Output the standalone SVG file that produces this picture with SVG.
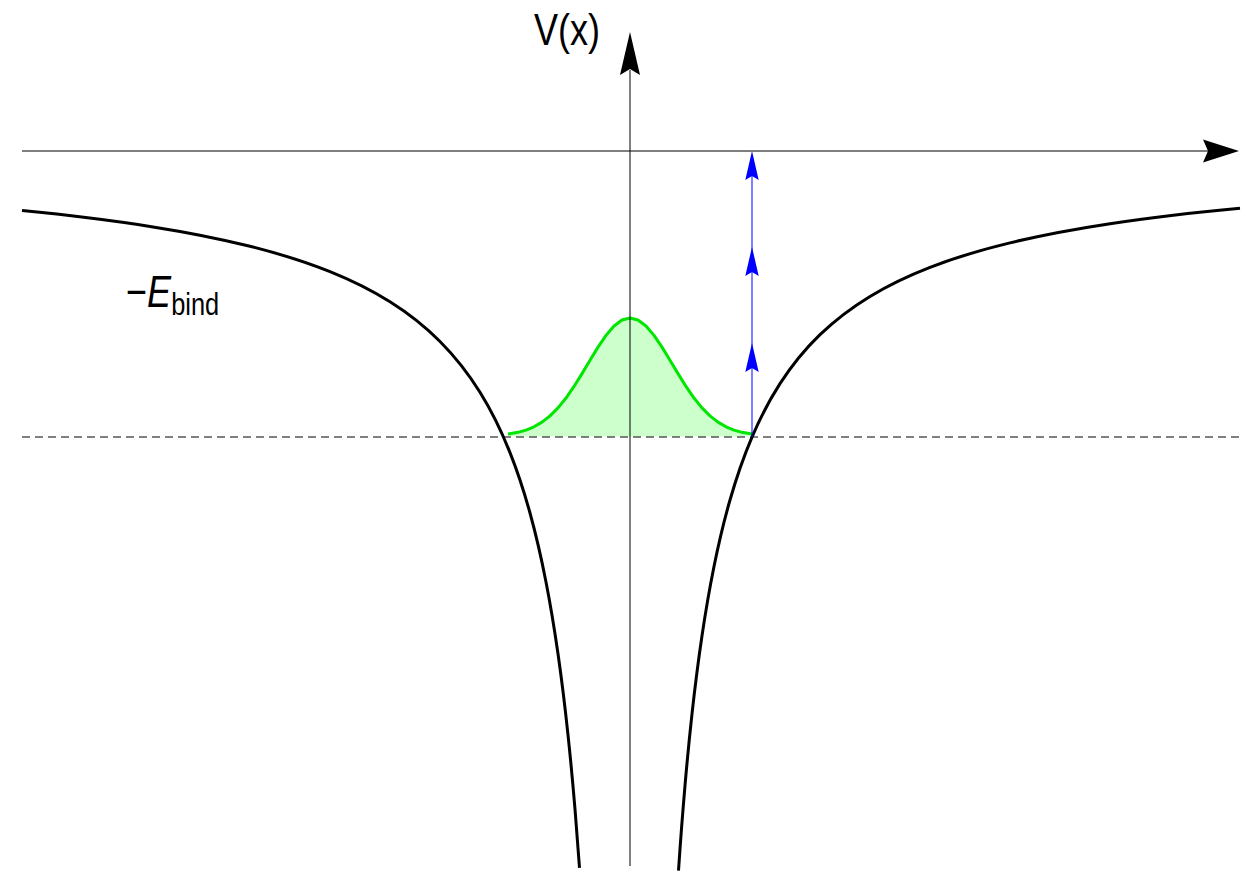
<svg xmlns="http://www.w3.org/2000/svg" width="1257" height="885" viewBox="0 0 1257 885">
<style>
.axis{stroke:#000;stroke-width:1;fill:none}
.ah{fill:#000;stroke:none}
.pot{stroke:#000;stroke-width:3;fill:none;stroke-linejoin:round;stroke-linecap:butt}
.dash{stroke:#000;stroke-width:1;stroke-dasharray:8 5;fill:none}
.blue{stroke:#0000ff;stroke-width:1;fill:none}
.bah{fill:#0000ff;stroke:none}
.lbl{font-family:"Liberation Sans",Arial,sans-serif;fill:#000}
</style>
<rect width="1257" height="885" fill="#fff"/>
<g id="wavepacket">
<path d="M508,436.5 L508,434.08 L518,432.34 L526,430.09 L534,426.8 L542,422.17 L550,415.93 L558,407.91 L566,398.03 L574,386.47 L582,373.64 L590,360.22 L598,347.12 L606,335.39 L614,326.07 L622,320.07 L630,318 L638,320.07 L646,326.07 L654,335.39 L662,347.12 L670,360.22 L678,373.64 L686,386.47 L694,398.03 L702,407.91 L710,415.93 L718,422.17 L726,426.8 L734,430.09 L742,432.34 L752,434.08 L752,436.5 Z" fill="#ccffcc" stroke="none"/>
<path d="M508,434.08 L518,432.34 L526,430.09 L534,426.8 L542,422.17 L550,415.93 L558,407.91 L566,398.03 L574,386.47 L582,373.64 L590,360.22 L598,347.12 L606,335.39 L614,326.07 L622,320.07 L630,318 L638,320.07 L646,326.07 L654,335.39 L662,347.12 L670,360.22 L678,373.64 L686,386.47 L694,398.03 L702,407.91 L710,415.93 L718,422.17 L726,426.8 L734,430.09 L742,432.34 L752,434.08" fill="none" stroke="#00e600" stroke-width="3" stroke-linejoin="round"/>
</g>
<g id="axes">
<line class="axis" x1="630" y1="866" x2="630" y2="70"/>
<path class="ah" d="M630,32 L640,75 L630,69 L620,75 Z"/>
<line class="axis" x1="22" y1="151" x2="1210" y2="151"/>
<path class="ah" d="M1239,151 L1203,162.5 L1208,151 L1203,139.5 Z"/>
</g>
<g id="level">
<line class="dash" x1="22" y1="437" x2="1240" y2="437"/>
</g>
<g id="potential">
<path class="pot" d="M22,210.54 C64.667,214.72 107.333,219.72 150,226.42 C183.333,231.66 216.667,237.9 250,246.26 C276.667,252.95 303.333,260.94 330,271.67 C350,279.71 370,289.26 390,301.83 C406.667,312.31 423.333,324.82 440,341.53 C453.333,354.9 466.667,370.88 480,392.33 C490,408.42 500,427.53 510,452.67 C516.667,469.43 523.333,488.87 530,513 C535.333,532.31 540.667,554.59 546,581.95 C550,602.47 554,625.85 558,653.78 C561.333,677.06 564.667,703.48 568,734.87 C570.333,756.84 572.667,781.26 575,809.18 C576.5,827.13 578,846.54 579.5,867.83"/>
<path class="pot" d="M1240,208.21 C1196.667,212.27 1153.333,217.15 1110,223.71 C1076.667,228.76 1043.333,234.78 1010,242.84 C983.333,249.29 956.667,256.99 930,267.33 C910,275.09 890,284.3 870,296.42 C853.333,306.52 836.667,318.57 820,334.68 C806.667,347.57 793.333,362.99 780,383.67 C770.667,398.15 761.333,415.19 752,437.07 C744.667,454.27 737.333,474.41 730,500 C724.667,518.61 719.333,540.1 714,566.48 C710,586.26 706,608.79 702,635.72 C698.667,658.16 695.333,683.64 692,713.9 C689.667,735.08 687.333,758.63 685,785.55 C682.833,810.55 680.667,838.44 678.5,870.59"/>
</g>
<g id="ionization">
<line class="blue" x1="752" y1="437" x2="752" y2="156"/>
<path class="bah" d="M752,151 L758.7,180 L752,176 L745.3,180 Z"/>
<path class="bah" d="M752,247 L758.7,276 L752,272 L745.3,276 Z"/>
<path class="bah" d="M752,343 L758.7,372 L752,368 L745.3,372 Z"/>
</g>
<g id="labels">
<text class="lbl" x="534" y="45" font-size="44" textLength="66" lengthAdjust="spacingAndGlyphs">V(x)</text>
<text class="lbl" transform="translate(126,307) scale(0.82,1)" x="0" y="0" font-size="44">−<tspan font-style="italic">E</tspan><tspan font-size="31" y="8">bind</tspan></text>
</g>
</svg>
